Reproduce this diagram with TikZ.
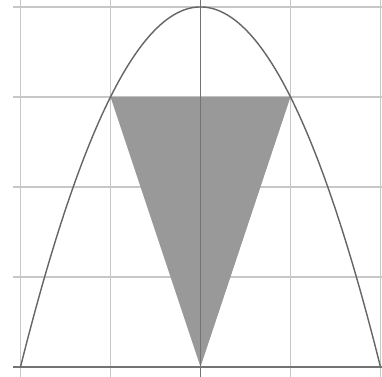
\documentclass[tikz,border=0pt]{standalone}
\begin{document}
\begin{tikzpicture}[
  gridline/.style={draw=black!22, line width=0.5pt},
  axisline/.style={draw=black!55, line width=0.5pt},
  curve/.style={draw=black!60, line width=0.45pt},
  region/.style={fill=black!40}
]
\useasboundingbox (-2.228,-0.11) rectangle (2.017,4.077);
\foreach \x in {-2,-1,1,2} \draw[gridline] (\x,-0.11) -- (\x,4.077);
\foreach \y in {1,2,3,4} \draw[gridline] (-2.08,\y) -- (2.017,\y);
\fill[region] (-1,3) -- (1,3) -- (0,0) -- cycle;
\draw[axisline] (-2.08,0) -- (2.017,0);
\draw[axisline] (0,-0.11) -- (0,4.077);
\draw[curve] plot[domain=-2:2, samples=100, smooth] (\x,{4-\x*\x});
\end{tikzpicture}
\end{document}
